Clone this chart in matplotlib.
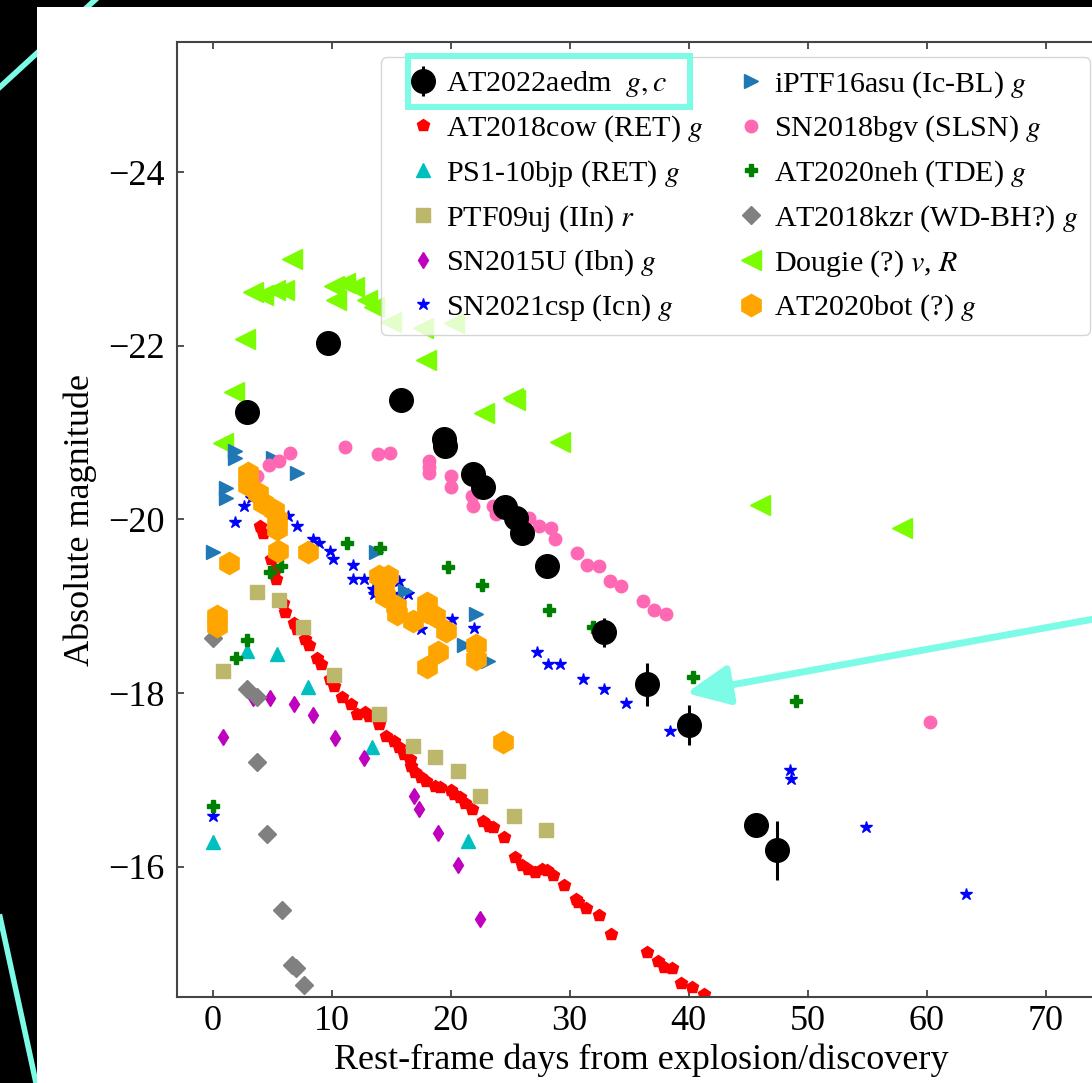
import matplotlib
matplotlib.use('Agg')
import matplotlib.pyplot as plt
from matplotlib.patches import Rectangle
from matplotlib.lines import Line2D

# light curves: rest-frame days vs absolute magnitude
aedm_t = [2.9, 9.7, 15.8, 19.4, 19.5, 21.9, 22.7, 24.6, 25.5, 26.0, 28.1, 32.9, 36.5, 40.0, 45.7, 47.4]
aedm_m = [-21.24, -22.03, -21.38, -20.93, -20.85, -20.52, -20.37, -20.14, -20.02, -19.85, -19.47,
          -18.70, -18.10, -17.63, -16.48, -16.19]
aedm_err = [0.05, 0.05, 0.05, 0.05, 0.05, 0.05, 0.05, 0.05, 0.05, 0.05, 0.05, 0.17, 0.25, 0.23, 0.05, 0.34]

cow_t = [4.0, 4.2, 4.9, 5.2, 5.3, 5.9, 6.1, 6.8, 7.1, 7.8, 8.1, 8.8, 9.1, 9.9, 10.2, 10.9, 11.6, 12.1,
         12.8, 13.1, 14.0, 14.6, 15.2, 15.7, 16.1, 16.6, 16.7, 17.0, 17.5, 17.9, 18.7, 19.1, 20.0, 20.3,
         20.8, 21.2, 21.8, 22.7, 23.2, 23.6, 24.5, 25.4, 26.0, 26.5, 27.1, 27.7, 28.1, 28.6, 29.5, 30.5,
         30.7, 31.4, 32.5, 33.5, 36.5, 37.4, 37.9, 38.6, 39.4, 40.3, 41.3]
cow_m = [-19.92, -19.85, -19.54, -19.43, -19.31, -19.04, -18.93, -18.81, -18.74, -18.62, -18.56, -18.41,
         -18.33, -18.16, -18.08, -17.95, -17.87, -17.76, -17.78, -17.74, -17.64, -17.51, -17.45, -17.38,
         -17.30, -17.24, -17.16, -17.09, -17.03, -16.99, -16.93, -16.92, -16.88, -16.84, -16.80, -16.74,
         -16.67, -16.53, -16.47, -16.46, -16.34, -16.11, -16.02, -15.98, -15.94, -15.98, -15.96, -15.90,
         -15.79, -15.63, -15.59, -15.52, -15.44, -15.23, -15.02, -14.92, -14.85, -14.83, -14.66, -14.62,
         -14.54]

bjp_t = [0.0, 2.9, 5.4, 8.0, 13.4, 21.5]
bjp_m = [-16.29, -18.49, -18.45, -18.07, -17.38, -16.30]

uj_t = [0.9, 3.75, 5.6, 7.6, 10.2, 14.0, 16.8, 18.7, 20.6, 22.5, 25.3, 28.0]
uj_m = [-18.26, -19.16, -19.07, -18.76, -18.21, -17.76, -17.39, -17.26, -17.10, -16.82, -16.58, -16.42]

sn15u_t = [0.9, 3.4, 4.8, 6.8, 8.4, 10.3, 12.7, 16.9, 17.3, 18.9, 20.6, 22.5]
sn15u_m = [-17.50, -17.94, -17.94, -17.87, -17.75, -17.48, -17.25, -16.82, -16.67, -16.39, -16.02, -15.40]

csp_t = [0.0, 1.9, 2.6, 3.2, 6.3, 7.1, 8.4, 8.9, 9.9, 10.1, 11.8, 11.8, 12.7, 13.5, 13.6, 15.7, 15.7,
         16.4, 17.5, 20.1, 22.0, 27.3, 28.2, 29.2, 31.1, 32.9, 34.7, 38.4, 48.5, 48.6, 54.9, 63.3]
csp_m = [-16.58, -19.97, -20.15, -20.25, -20.04, -19.93, -19.77, -19.73, -19.64, -19.54, -19.48, -19.32,
         -19.32, -19.20, -19.14, -19.29, -19.14, -19.14, -18.74, -18.85, -18.75, -18.47, -18.34, -18.34,
         -18.16, -18.05, -17.89, -17.56, -17.11, -17.01, -16.46, -15.69]

asu_t = [0.0, 1.1, 1.1, 1.9, 1.9, 5.1, 7.1, 13.7, 16.2, 21.1, 22.1, 23.1]
asu_m = [-19.62, -20.36, -20.25, -20.79, -20.71, -20.71, -20.54, -19.62, -19.18, -18.56, -18.91, -18.37]

bgv_t = [3.75, 4.7, 5.6, 6.5, 11.1, 13.9, 14.9, 18.2, 18.2, 18.2, 20.0, 20.0, 21.8, 21.9, 23.6, 23.8,
         25.0, 25.9, 26.6, 27.4, 28.4, 28.8, 30.6, 31.5, 32.5, 33.4, 34.3, 36.2, 37.1, 38.1, 60.3]
bgv_m = [-20.50, -20.63, -20.67, -20.77, -20.84, -20.76, -20.77, -20.67, -20.60, -20.53, -20.50, -20.38,
         -20.27, -20.15, -20.15, -20.06, -20.10, -20.04, -20.02, -19.92, -19.90, -19.77, -19.61, -19.48,
         -19.46, -19.29, -19.23, -19.06, -18.96, -18.91, -17.67]

neh_t = [0.0, 2.0, 2.9, 4.8, 5.7, 7.9, 11.3, 14.1, 19.8, 22.6, 28.3, 32.0, 40.4, 49.0]
neh_m = [-16.70, -18.41, -18.61, -19.39, -19.47, -19.62, -19.73, -19.67, -19.45, -19.25, -18.96, -18.76,
         -18.19, -17.91]

kzr_t = [0.0, 2.9, 3.75, 3.75, 4.6, 5.85, 6.7, 7.0, 7.7]
kzr_m = [-18.63, -18.05, -17.96, -17.21, -16.38, -15.50, -14.87, -14.83, -14.64]

dougie_t = [0.9, 1.8, 2.7, 3.4, 4.2, 5.2, 6.0, 6.7, 10.2, 10.4, 11.1, 11.9, 13.0, 13.6, 15.0, 17.7,
            17.9, 20.3, 22.8, 25.2, 25.4, 29.2, 46.0, 57.95]
dougie_m = [-20.88, -21.47, -22.08, -22.62, -22.59, -22.64, -22.64, -23.0, -22.69, -22.53, -22.72,
            -22.68, -22.53, -22.45, -22.27, -22.2, -21.84, -22.26, -21.23, -21.40, -21.38, -20.89,
            -20.17, -19.9]

bot_t = [0.4, 0.4, 1.4, 3.0, 3.0, 3.8, 4.2, 5.15, 5.4, 5.4, 5.5, 8.0, 14.0, 14.4, 14.5, 14.7, 15.4,
         15.5, 16.8, 18.0, 18.0, 18.0, 18.7, 18.9, 19.6, 22.1, 22.1, 24.4]
bot_m = [-18.89, -18.77, -19.50, -20.54, -20.40, -20.31, -20.19, -20.11, -20.0, -19.89, -19.64, -19.62,
         -19.35, -19.20, -19.12, -19.35, -19.0, -18.91, -18.83, -19.04, -18.93, -18.30, -18.89, -18.47,
         -18.72, -18.56, -18.39, -17.44]

plt.rcParams['font.family'] = ['Liberation Serif', 'DejaVu Serif']
plt.rcParams['mathtext.fontset'] = 'stix'

W, H = 1092, 1083
AQUA = '#7CFBE6'

def fx(px):
    return px / W

def fy(py):
    return 1 - py / H

fig = plt.figure(figsize=(W / 100, H / 100), dpi=100, facecolor='black')

# slide background
fig.add_artist(Line2D([fx(0), fx(95)], [fy(87), fy(0)], color=AQUA, lw=4, zorder=-3))
fig.add_artist(Line2D([fx(0), fx(38)], [fy(917), fy(1092)], color=AQUA, lw=4, zorder=-3))
fig.add_artist(Rectangle((fx(37), 0), 1 - fx(37), fy(7), transform=fig.transFigure,
                         facecolor='white', edgecolor='none', zorder=-2))

# x from -3 to 75 days, right edge runs past the frame
ax = fig.add_axes([fx(177), fy(997), (1105 - 177) / W, (997 - 42) / H])

h_dougie, = ax.plot(dougie_t, dougie_m, ls='none', marker='<', color='lawngreen', ms=15, zorder=1.5,
                    label='Dougie (?) $v$, $R$')
h_cow, = ax.plot(cow_t, cow_m, ls='none', marker='p', color='red', ms=9, label='AT2018cow (RET) $g$')
h_bjp, = ax.plot(bjp_t, bjp_m, ls='none', marker='^', color='c', ms=10, label='PS1-10bjp (RET) $g$')
h_uj, = ax.plot(uj_t, uj_m, ls='none', marker='s', color='darkkhaki', ms=9.5, label='PTF09uj (IIn) $r$')
h_15u, = ax.plot(sn15u_t, sn15u_m, ls='none', marker='d', color='m', ms=8.5, label='SN2015U (Ibn) $g$')
h_csp, = ax.plot(csp_t, csp_m, ls='none', marker='*', color='b', ms=9, label='SN2021csp (Icn) $g$')
h_asu, = ax.plot(asu_t, asu_m, ls='none', marker='>', color='tab:blue', ms=10,
                 label='iPTF16asu (Ic-BL) $g$')
h_bgv, = ax.plot(bgv_t, bgv_m, ls='none', marker='o', color='hotpink', ms=9,
                 label='SN2018bgv (SLSN) $g$')
h_neh, = ax.plot(neh_t, neh_m, ls='none', marker='P', color='g', ms=9, label='AT2020neh (TDE) $g$')
h_kzr, = ax.plot(kzr_t, kzr_m, ls='none', marker='D', color='gray', ms=9,
                 label='AT2018kzr (WD-BH?) $g$')
h_bot, = ax.plot(bot_t, bot_m, ls='none', marker='h', color='orange', ms=16, label='AT2020bot (?) $g$')
h_aedm = ax.errorbar(aedm_t, aedm_m, yerr=aedm_err, fmt='o', color='k', ms=17, elinewidth=2.2,
                     capsize=0, zorder=5, label='AT2022aedm  $g, c$')

ax.set_xlim(-3, 75)
ax.set_ylim(-14.5, -25.5)
ax.set_xticks(range(0, 80, 10))
ax.set_yticks([-24, -22, -20, -18, -16])
ax.tick_params(direction='in', top=True, right=True, length=5, width=1.2, colors='#333333',
               labelcolor='black', labelsize=26)
ax.tick_params(axis='x', pad=6)
ax.tick_params(axis='y', pad=9)
for sp in ax.spines.values():
    sp.set_color('#444444')
    sp.set_linewidth(1.5)
ax.set_xlabel('Rest-frame days from explosion/discovery', fontsize=26, labelpad=4)
ax.set_ylabel('Absolute magnitude', fontsize=26, labelpad=8)

handles = [h_aedm, h_cow, h_bjp, h_uj, h_15u, h_csp, h_asu, h_bgv, h_neh, h_kzr, h_dougie, h_bot]
ax.legend(handles=handles, ncol=2, loc='upper right', bbox_to_anchor=(fx(1090), fy(57)),
          bbox_transform=fig.transFigure, borderaxespad=0, fontsize=21.6, handlelength=2.0,
          handletextpad=-0.23, columnspacing=0.57, labelspacing=0.47, borderpad=0.4,
          fancybox=True, framealpha=0.8, edgecolor='0.8')

# highlight box and pointer
fig.add_artist(Rectangle((fx(408), fy(107)), (690 - 408) / W, (107 - 56) / H, transform=fig.transFigure,
                         fill=False, edgecolor=AQUA, lw=4.3, zorder=10))
ax.annotate('', xy=(39.8, -18.0), xycoords='data', xytext=(1105, H - 617), textcoords='figure pixels',
            arrowprops=dict(arrowstyle='-|>,head_length=1.3,head_width=0.6', mutation_scale=20,
                            lw=5, color=AQUA, shrinkA=0, shrinkB=0), zorder=10)

fig.savefig('out.png', dpi=100, facecolor=fig.get_facecolor())
